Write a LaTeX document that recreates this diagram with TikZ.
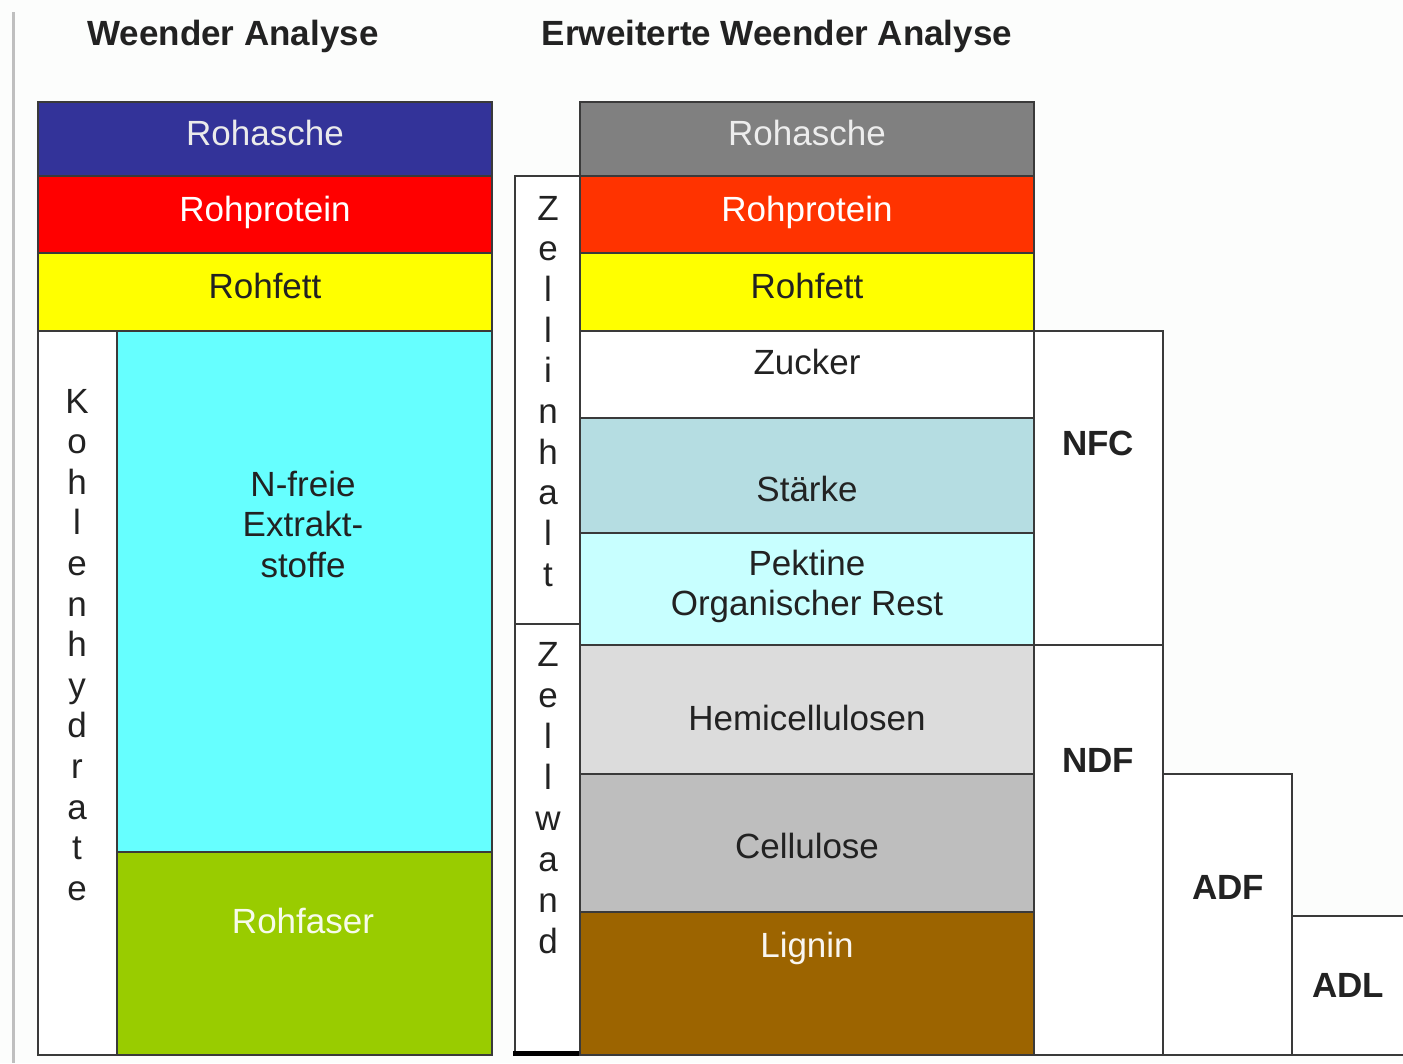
\documentclass[tikz,border=0pt]{standalone}
\usepackage{fontspec}
\setmainfont{Liberation Sans}
\usetikzlibrary{positioning}

\definecolor{bg}{HTML}{FCFDFC}
\definecolor{rim}{HTML}{3A3A3A}
\definecolor{ascheblau}{HTML}{333399}
\definecolor{aschegrau}{HTML}{808080}
\definecolor{proteinrot}{HTML}{FF0000}
\definecolor{proteinorange}{HTML}{FF3300}
\definecolor{fettgelb}{HTML}{FFFF00}
\definecolor{nfecyan}{HTML}{66FFFF}
\definecolor{fasergruen}{HTML}{99CC00}
\definecolor{staerkeblau}{HTML}{B5DDE2}
\definecolor{pektincyan}{HTML}{C8FFFF}
\definecolor{hemigrau}{HTML}{DCDCDC}
\definecolor{cellgrau}{HTML}{BEBEBE}
\definecolor{ligninbraun}{HTML}{9C6400}
\definecolor{ink}{HTML}{222222}

\tikzset{
  layer/.style={draw=rim, line width=1.5pt},
  lbl/.style={anchor=base, inner sep=0pt, text=ink, font=\fontsize{35}{40}\selectfont},
  hdr/.style={lbl, font=\fontsize{35}{40}\selectfont\bfseries},
  lightlbl/.style={lbl, text=#1},
}

\begin{document}
\begin{tikzpicture}[x=1pt, y=-1pt]
\useasboundingbox (0,0) rectangle (1403,1063);
\fill[bg] (0,0) rectangle (1403,1063);
\draw[line width=3pt, color=black!25] (13,12) -- (13,1063);

% Weender Analyse
\node[hdr] (titelW) at (233,45) {Weender Analyse};
\draw[layer, fill=ascheblau] (38,102) rectangle (492,176);
\draw[layer, fill=proteinrot] (38,176) rectangle (492,253);
\draw[layer, fill=fettgelb] (38,253) rectangle (492,331);
\draw[layer, fill=white] (38,331) rectangle (117,1055);
\draw[layer, fill=nfecyan] (117,331) rectangle (492,852);
\draw[layer, fill=fasergruen] (117,852) rectangle (492,1055);
\node[lightlbl=black!8] (wAsche) at (265,145) {Rohasche};
\node[lightlbl=white] (wProtein) at (265,221) {Rohprotein};
\node[lbl] (wFett) at (265,298) {Rohfett};
\node[lbl] (wNfe1) at (303,496) {N-freie};
\node[lbl] (wNfe2) at (303,536) {Extrakt-};
\node[lbl] (wNfe3) at (303,577) {stoffe};
\node[lightlbl=white!92!fasergruen] (wFaser) at (303,933) {Rohfaser};
\foreach \c [count=\i from 0] in {K,o,h,l,e,n,h,y,d,r,a,t,e}
  \node[lbl] (kh\i) at (77,413+40.6*\i) {\c};

% Erweiterte Weender Analyse
\node[hdr] (titelE) at (777,45) {Erweiterte Weender Analyse};
\draw[layer, fill=white] (515,176) rectangle (580,624);
\draw[layer, fill=white] (515,624) rectangle (580,1055);
\draw[line width=5pt, black] (513,1053) -- (585,1053);
\draw[layer, fill=aschegrau] (580,102) rectangle (1034,176);
\draw[layer, fill=proteinorange] (580,176) rectangle (1034,253);
\draw[layer, fill=fettgelb] (580,253) rectangle (1034,331);
\draw[layer, fill=white] (580,331) rectangle (1034,418);
\draw[layer, fill=staerkeblau] (580,418) rectangle (1034,533);
\draw[layer, fill=pektincyan] (580,533) rectangle (1034,645);
\draw[layer, fill=hemigrau] (580,645) rectangle (1034,774);
\draw[layer, fill=cellgrau] (580,774) rectangle (1034,912);
\draw[layer, fill=ligninbraun] (580,912) rectangle (1034,1055);
\node[lightlbl=black!7] (eAsche) at (807,145) {Rohasche};
\node[lightlbl=white] (eProtein) at (807,221) {Rohprotein};
\node[lbl] (eFett) at (807,298) {Rohfett};
\node[lbl] (eZucker) at (807,374) {Zucker};
\node[lbl] (eStaerke) at (807,501) {Stärke};
\node[lbl] (ePektin) at (807,575) {Pektine};
\node[lbl] (eRest) at (807,615) {Organischer Rest};
\node[lbl] (eHemi) at (807,730) {Hemicellulosen};
\node[lbl] (eCell) at (807,858) {Cellulose};
\node[lightlbl=white!94!ligninbraun] (eLignin) at (807,957) {Lignin};
\foreach \c [count=\i from 0] in {Z,e,l,l,i,n,h,a,l,t}
  \node[lbl] (zi\i) at (548,220+40.7*\i) {\c};
\foreach \c [count=\i from 0] in {Z,e,l,l,w,a,n,d}
  \node[lbl] (zw\i) at (548,666+41*\i) {\c};

% Fraktionen
\draw[layer, fill=white] (1034,331) rectangle (1163,645);
\draw[layer, fill=white] (1034,645) rectangle (1163,1055);
\draw[layer, fill=white] (1163,774) rectangle (1292,1055);
\draw[layer, fill=white] (1292,916) rectangle (1420,1055);
\node[hdr] (nfc) at (1098,455) {NFC};
\node[hdr] (ndf) at (1098,772) {NDF};
\node[hdr] (adf) at (1228,899) {ADF};
\node[hdr] (adl) at (1348,997) {ADL};
\end{tikzpicture}
\end{document}
